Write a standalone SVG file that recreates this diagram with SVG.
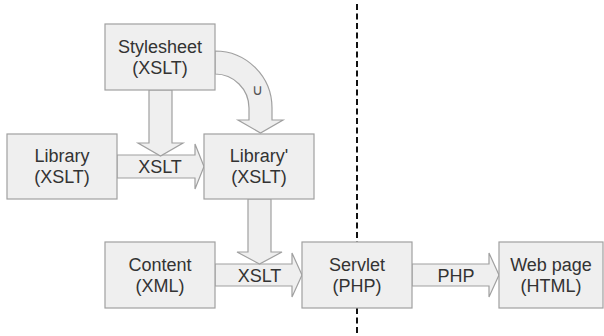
<svg xmlns="http://www.w3.org/2000/svg" width="604" height="336" viewBox="0 0 604 336">
<style>
.box{fill:#efefef;stroke:#a0a0a0;stroke-width:1.2}
.arr{fill:#efefef;stroke:#a0a0a0;stroke-width:1.2;stroke-linejoin:miter}
text{font-family:"Liberation Sans",Arial,sans-serif;font-size:18px;fill:#333;text-anchor:middle}
.div{stroke:#111;stroke-width:2;stroke-dasharray:6 3.5;fill:none}
</style>
<rect width="604" height="336" fill="#fff"/>
<line class="div" x1="357" y1="4" x2="357" y2="336"/>
<g id="connectors">
<path class="arr" d="M117,155 L195,155 L195,144 L204,166.5 L195,189 L195,178 L117,178 Z"/>
<text x="160" y="173">XSLT</text>
<path class="arr" d="M149,90 L172,90 L172,143 L183,143 L160.5,156 L138,143 L149,143 Z"/>
<path class="arr" d="M215,51 A57,57 0 0 1 272,108 L272,120 L283,120 L260.5,133 L238,120 L249,120 L249,108 A34,34 0 0 0 215,74 Z"/>
<text x="257" y="95" style="font-size:15px;fill:#555">∪</text>
<path class="arr" d="M215,264 L292,264 L292,253 L302,275 L292,297 L292,286 L215,286 Z"/>
<text x="259.5" y="282">XSLT</text>
<path class="arr" d="M248,199 L271,199 L271,252 L282,252 L259.5,264 L237,252 L248,252 Z"/>
<path class="arr" d="M412,264 L489,264 L489,253 L499,275 L489,297 L489,286 L412,286 Z"/>
<text x="456" y="282">PHP</text>
</g>
<g id="stylesheet">
<rect class="box" x="105" y="24" width="110" height="66"/>
<text x="160" y="53">Stylesheet</text>
<text x="160" y="74">(XSLT)</text>
</g>
<g id="library">
<rect class="box" x="7" y="134" width="110" height="65"/>
<text x="62" y="162">Library</text>
<text x="62" y="183">(XSLT)</text>
</g>
<g id="library2">
<rect class="box" x="204" y="134" width="110" height="65"/>
<text x="259" y="162">Library'</text>
<text x="259" y="183">(XSLT)</text>
</g>
<g id="content">
<rect class="box" x="105" y="242" width="110" height="66"/>
<text x="160" y="271">Content</text>
<text x="160" y="292">(XML)</text>
</g>
<g id="servlet">
<rect class="box" x="302" y="242" width="110" height="66"/>
<text x="357" y="271">Servlet</text>
<text x="357" y="292">(PHP)</text>
</g>
<g id="webpage">
<rect class="box" x="499" y="242" width="104" height="66"/>
<text x="551" y="271">Web page</text>
<text x="551" y="292">(HTML)</text>
</g>
</svg>
